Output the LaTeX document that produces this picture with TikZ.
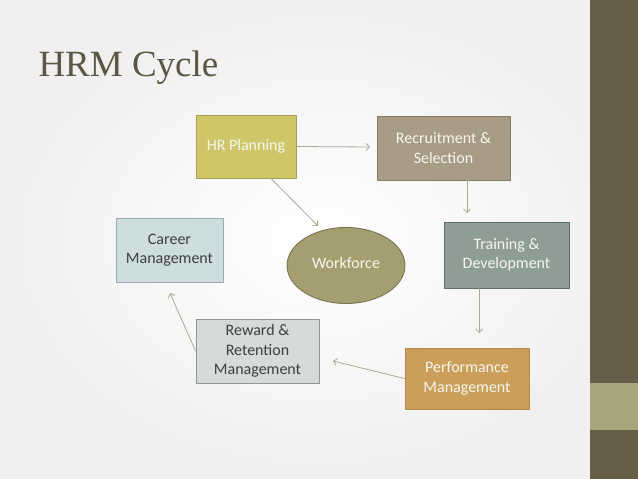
\documentclass[tikz,border=0pt]{standalone}
\usepackage{fontspec}
\setmainfont{Carlito}
\newfontfamily\titlefont{Liberation Serif}
\usetikzlibrary{arrows.meta,shapes.geometric}
\definecolor{barbrown}{HTML}{665E48}
\definecolor{barolive}{HTML}{A8A47C}
\definecolor{titlegray}{HTML}{5B5744}
\definecolor{linegray}{HTML}{A9A996}
\definecolor{darktext}{HTML}{3F3F3F}
\definecolor{lighttext}{HTML}{F6F6EE}
\definecolor{hrpfill}{HTML}{CFC66A}
\definecolor{hrpline}{HTML}{A8A050}
\definecolor{recfill}{HTML}{A89C86}
\definecolor{recline}{HTML}{857A66}
\definecolor{trnfill}{HTML}{8E9E96}
\definecolor{trnline}{HTML}{5F6E68}
\definecolor{perfill}{HTML}{CB9F5A}
\definecolor{perline}{HTML}{B48842}
\definecolor{rewfill}{HTML}{D6DADA}
\definecolor{rewline}{HTML}{8E9696}
\definecolor{carfill}{HTML}{CEDDDE}
\definecolor{carline}{HTML}{9AAAB0}
\definecolor{wffill}{HTML}{A49E70}
\definecolor{wfline}{HTML}{7A7450}
\tikzset{
  every picture/.style={line join=round, line cap=round, >=Stealth},
  box/.style={rectangle, inner sep=0pt, align=center, line width=0.9pt,
    font=\fontsize{16}{19.5}\selectfont},
  light/.style={text=lighttext},
  dark/.style={text=darktext},
  link/.style={-{Straight Barb[length=3.5pt,width=7pt]}, linegray, line width=0.8pt},
}
\begin{document}
\begin{tikzpicture}[x=1pt,y=-1pt]
\useasboundingbox (0,0) rectangle (638,479);
\shade[inner color=white, outer color=black!6] (0,0) rectangle (638,479);
\fill[barbrown] (590,0) rectangle (638,479);
\fill[barolive] (590,383) rectangle (638,430);
\node[anchor=base west, text=titlegray, font=\titlefont\fontsize{37}{40}\selectfont] (title) at (35,76) {HRM Cycle};
% cycle boxes
\node[box, fill=hrpfill, draw=hrpline, light, minimum width=100pt, minimum height=63pt] (hrp) at (246,146.5) {HR Planning};
\node[box, fill=recfill, draw=recline, light, minimum width=133pt, minimum height=64pt] (rec) at (443.5,148) {Recruitment \&\\Selection};
\node[box, fill=trnfill, draw=trnline, light, minimum width=125pt, minimum height=66pt] (trn) at (506.5,255) {Training \&\\Development};
\node[box, fill=perfill, draw=perline, light, minimum width=124pt, minimum height=61pt] (per) at (467,378.5) {Performance\\Management};
\node[box, fill=rewfill, draw=rewline, dark, minimum width=123pt, minimum height=64pt] (rew) at (257.5,351) {Reward \&\\Retention\\Management};
\node[box, fill=carfill, draw=carline, dark, minimum width=107pt, minimum height=64pt] (car) at (169.5,250) {Career\\Management};
\node[box, ellipse, fill=wffill, draw=wfline, light, minimum width=118pt, minimum height=76pt] (wf) at (346,265.5) {\raisebox{5pt}{Workforce}};
% free arrow ends
\coordinate (a1) at (370,147);
\coordinate (a2) at (318,226);
\coordinate (a3) at (467,213);
\coordinate (a4) at (479,333);
\coordinate (a5) at (333,361);
\coordinate (a6) at (170,293);
\draw[link] (hrp.east) -- (a1);
\draw[link] (hrp.-52) -- (a2);
\draw[link] (rec.south -| a3) -- (a3);
\draw[link] (trn.south -| a4) -- (a4);
\draw[link] (per.west) -- (a5);
\draw[link] (rew.west) -- (a6);
\end{tikzpicture}
\end{document}
